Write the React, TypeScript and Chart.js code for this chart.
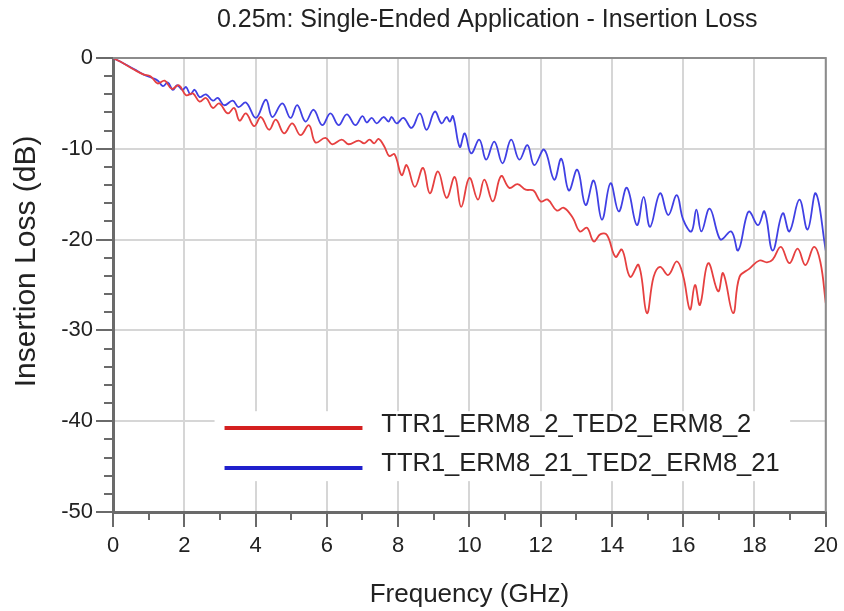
import React, { useEffect, useRef } from 'react';
import { Chart, registerables } from 'chart.js';

Chart.register(...registerables);

const FONT = '"Liberation Sans", Arial, Helvetica, sans-serif';

const chartTitle = '0.25m: Single-Ended Application - Insertion Loss';
const xAxisTitle = 'Frequency (GHz)';
const yAxisTitle = 'Insertion Loss (dB)';
const seriesNames = ['TTR1_ERM8_2_TED2_ERM8_2', 'TTR1_ERM8_21_TED2_ERM8_21'];
const seriesColors = ['#e64040', '#4040e4'];
const legendColors = ['#d42020', '#2020cc'];

const xMinorTicks = [1, 3, 5, 7, 9, 11, 13, 15, 17, 19];
const yMinorTicks = [-2, -4, -6, -8, -12, -14, -16, -18, -22, -24, -26, -28, -32, -34, -36, -38, -42, -44, -46, -48];

const freqRed = [
  0, 0.3, 0.6, 0.85, 1.05, 1.25, 1.45, 1.65, 1.85, 2.05, 2.24, 2.43, 2.61, 2.8, 2.98, 3.22, 3.4, 3.55, 3.73, 3.96,
  4.15, 4.38, 4.57, 4.8, 5.03, 5.26, 5.5, 5.68, 5.96, 6.15, 6.42, 6.61, 6.89, 7.05, 7.2, 7.33, 7.45, 7.62, 7.75, 7.9,
  8.1, 8.24, 8.47, 8.7, 8.89, 9.12, 9.36, 9.59, 9.77, 10.0, 10.24, 10.42, 10.66, 10.89, 11.12, 11.35, 11.58, 11.8, 12.0, 12.2,
  12.45, 12.65, 12.9, 13.1, 13.3, 13.49, 13.68, 13.86, 14.1, 14.28, 14.51, 14.75, 14.98, 15.17, 15.35, 15.58, 15.82, 16.0, 16.19, 16.33,
  16.47, 16.7, 16.98, 17.12, 17.4, 17.58, 17.86, 18.14, 18.35, 18.51, 18.74, 18.98, 19.21, 19.43, 19.67, 19.85, 20.0,
];
const lossRed = [
  0, -0.6, -1.3, -1.8, -2.0, -2.8, -2.5, -3.4, -3.0, -4.1, -3.9, -4.8, -4.4, -5.5, -5.0, -6.1, -5.5, -6.9, -6.1, -7.5,
  -6.5, -7.9, -6.8, -8.3, -7.2, -8.5, -7.4, -9.3, -8.8, -9.5, -9.0, -9.5, -9.1, -9.4, -9.0, -9.4, -8.9, -9.8, -10.8, -10.6,
  -12.9, -11.8, -14.2, -12.1, -14.9, -12.5, -15.4, -13.1, -16.4, -13.2, -15.6, -13.4, -15.8, -13.0, -14.3, -13.9, -14.5, -14.6, -15.8, -15.6,
  -16.8, -16.5, -17.6, -19.1, -18.7, -20.2, -19.4, -19.5, -21.9, -21.1, -24.1, -22.8, -28.1, -24.1, -23.0, -23.9, -22.4, -24.0, -27.7, -25.0,
  -27.2, -22.6, -25.7, -23.7, -28.1, -24.1, -23.2, -22.3, -22.5, -22.2, -20.8, -22.6, -21.0, -22.8, -20.8, -22.5, -27.0,
];

const freqBlue = [
  0, 0.3, 0.6, 0.85, 1.1, 1.26, 1.4, 1.54, 1.68, 1.8, 1.95, 2.05, 2.17, 2.29, 2.43, 2.61, 2.8, 2.94, 3.12, 3.36,
  3.52, 3.73, 4.01, 4.29, 4.47, 4.75, 4.98, 5.17, 5.4, 5.63, 5.87, 6.1, 6.33, 6.56, 6.8, 7.0, 7.12, 7.26, 7.4, 7.59,
  7.73, 7.82, 7.96, 8.15, 8.38, 8.61, 8.8, 9.03, 9.22, 9.36, 9.45, 9.54, 9.73, 9.87, 10.05, 10.28, 10.47, 10.7, 10.93, 11.17,
  11.4, 11.63, 11.82, 12.1, 12.38, 12.58, 12.79, 13.03, 13.26, 13.49, 13.72, 13.96, 14.19, 14.42, 14.7, 14.89, 15.07, 15.35, 15.58, 15.82,
  16.0, 16.23, 16.37, 16.51, 16.74, 16.98, 17.07, 17.35, 17.54, 17.77, 17.86, 18.1, 18.28, 18.51, 18.79, 18.98, 19.26, 19.49, 19.72, 20.0,
];
const lossBlue = [
  0, -0.6, -1.25, -1.8, -2.2, -2.5, -3.1, -2.7, -3.5, -3.0, -3.5, -3.2, -4.0, -3.5, -4.3, -4.0, -4.7, -4.4, -5.2, -4.7,
  -5.4, -4.9, -6.6, -4.6, -6.5, -5.0, -6.6, -5.2, -7.0, -5.7, -7.4, -6.1, -7.4, -6.2, -7.4, -6.4, -7.1, -6.6, -7.2, -6.5,
  -7.0, -6.5, -7.2, -6.6, -7.7, -6.1, -7.9, -5.9, -7.2, -6.5, -7.0, -6.4, -9.8, -8.3, -10.5, -9.0, -11.2, -9.2, -11.6, -9.0,
  -11.2, -9.6, -11.8, -10.1, -13.4, -11.1, -14.6, -12.3, -16.2, -13.5, -17.8, -13.8, -16.9, -14.3, -18.4, -15.3, -18.6, -14.9, -17.3, -15.1,
  -17.8, -19.1, -16.7, -19.1, -16.6, -19.5, -20.0, -19.1, -21.2, -17.5, -16.9, -18.4, -16.9, -21.2, -17.1, -19.1, -15.6, -18.9, -14.9, -21.2,
];

const toPoints = (xs: number[], ys: number[]) => xs.map((x, i) => ({ x, y: ys[i] }));

const decorPlugin = {
  id: 'decor',
  afterDatasetsDraw(chart: any) {
    const { ctx, chartArea } = chart;
    const xs = chart.scales.x;
    const ys = chart.scales.y;
    ctx.save();
    // title (offset to the right like the reference)
    ctx.font = `25px ${FONT}`;
    ctx.fillStyle = '#222222';
    ctx.textAlign = 'center';
    ctx.textBaseline = 'middle';
    ctx.fillText(chartTitle, xs.getPixelForValue(10.5), chartArea.top - 38);
    // y-axis title (rotated, placed like the reference)
    ctx.save();
    ctx.translate(27, ys.getPixelForValue(-22.4));
    ctx.rotate(-Math.PI / 2);
    ctx.font = `30px ${FONT}`;
    ctx.fillText(yAxisTitle, 0, 0);
    ctx.restore();
    // top and right frame
    ctx.strokeStyle = '#8c8c8c';
    ctx.lineWidth = 2;
    ctx.beginPath();
    ctx.moveTo(chartArea.left, chartArea.top);
    ctx.lineTo(chartArea.right, chartArea.top);
    ctx.lineTo(chartArea.right, chartArea.bottom);
    ctx.stroke();
    // minor ticks
    ctx.strokeStyle = '#6a6a6a';
    ctx.lineWidth = 2;
    ctx.beginPath();
    xMinorTicks.forEach((v) => {
      const p = Math.round(xs.getPixelForValue(v));
      ctx.moveTo(p, chartArea.bottom);
      ctx.lineTo(p, chartArea.bottom + 8);
    });
    yMinorTicks.forEach((v) => {
      const p = Math.round(ys.getPixelForValue(v));
      ctx.moveTo(chartArea.left - 9, p);
      ctx.lineTo(chartArea.left, p);
    });
    ctx.stroke();
    // legend
    const boxL = xs.getPixelForValue(2.85);
    const boxR = xs.getPixelForValue(19.0);
    const boxT = ys.getPixelForValue(-38.9);
    const boxB = ys.getPixelForValue(-46.6);
    ctx.fillStyle = '#ffffff';
    ctx.fillRect(boxL, boxT, boxR - boxL, boxB - boxT);
    const rows = [-40.75, -45.15];
    const textRows = [-40.4, -44.75];
    ctx.font = `25.5px ${FONT}`;
    ctx.textBaseline = 'middle';
    ctx.textAlign = 'left';
    seriesNames.forEach((name, i) => {
      const y = ys.getPixelForValue(rows[i]);
      ctx.strokeStyle = legendColors[i];
      ctx.lineWidth = 4;
      ctx.beginPath();
      ctx.moveTo(xs.getPixelForValue(3.13), y);
      ctx.lineTo(xs.getPixelForValue(7.0), y);
      ctx.stroke();
      ctx.fillStyle = '#222222';
      ctx.fillText(name, xs.getPixelForValue(7.53), ys.getPixelForValue(textRows[i]));
    });
    ctx.restore();
  },
};

export default function App() {
  const canvasRef = useRef<HTMLCanvasElement | null>(null);

  useEffect(() => {
    if (!canvasRef.current) return;
    const chart = new Chart(canvasRef.current, {
      type: 'line',
      data: {
        datasets: [
          {
            label: seriesNames[0],
            data: toPoints(freqRed, lossRed),
            borderColor: seriesColors[0],
            borderWidth: 1.8,
            pointRadius: 0,
            tension: 0.4,
            fill: false,
          },
          {
            label: seriesNames[1],
            data: toPoints(freqBlue, lossBlue),
            borderColor: seriesColors[1],
            borderWidth: 1.8,
            pointRadius: 0,
            tension: 0.4,
            fill: false,
          },
        ],
      },
      options: {
        animation: false,
        responsive: false,
        devicePixelRatio: 1,
        layout: { padding: { left: 0, right: 14, top: 58, bottom: 0 } },
        plugins: {
          legend: { display: false },
          tooltip: { enabled: false },
          title: { display: false },
        },
        scales: {
          x: {
            type: 'linear',
            min: 0,
            max: 20,
            afterFit: (scale: any) => {
              scale.height = 99;
            },
            ticks: {
              stepSize: 2,
              autoSkip: false,
              maxRotation: 0,
              color: '#222222',
              padding: 6,
              font: { family: FONT, size: 22 },
            },
            grid: {
              color: '#d6d6d6',
              lineWidth: 2,
              tickColor: '#6a6a6a',
              tickWidth: 2,
              tickLength: 15,
            },
            border: { color: '#6a6a6a', width: 3 },
            title: {
              display: true,
              text: xAxisTitle,
              color: '#222222',
              font: { family: FONT, size: 26 },
              padding: { top: 0, bottom: 1 },
            },
          },
          y: {
            type: 'linear',
            min: -50,
            max: 0,
            afterFit: (scale: any) => {
              scale.width = 113;
            },
            ticks: {
              stepSize: 10,
              autoSkip: false,
              color: '#222222',
              padding: 3,
              font: { family: FONT, size: 22 },
            },
            grid: {
              color: '#d6d6d6',
              lineWidth: 2,
              tickColor: '#6a6a6a',
              tickWidth: 2,
              tickLength: 17,
            },
            border: { color: '#6a6a6a', width: 3 },
            title: { display: false },
          },
        },
      },
      plugins: [decorPlugin],
    });
    return () => chart.destroy();
  }, []);

  return (
    <div style={{ position: 'fixed', left: 0, top: 0, width: 844, height: 611, background: '#ffffff' }}>
      <canvas ref={canvasRef} width={844} height={611} />
    </div>
  );
}
